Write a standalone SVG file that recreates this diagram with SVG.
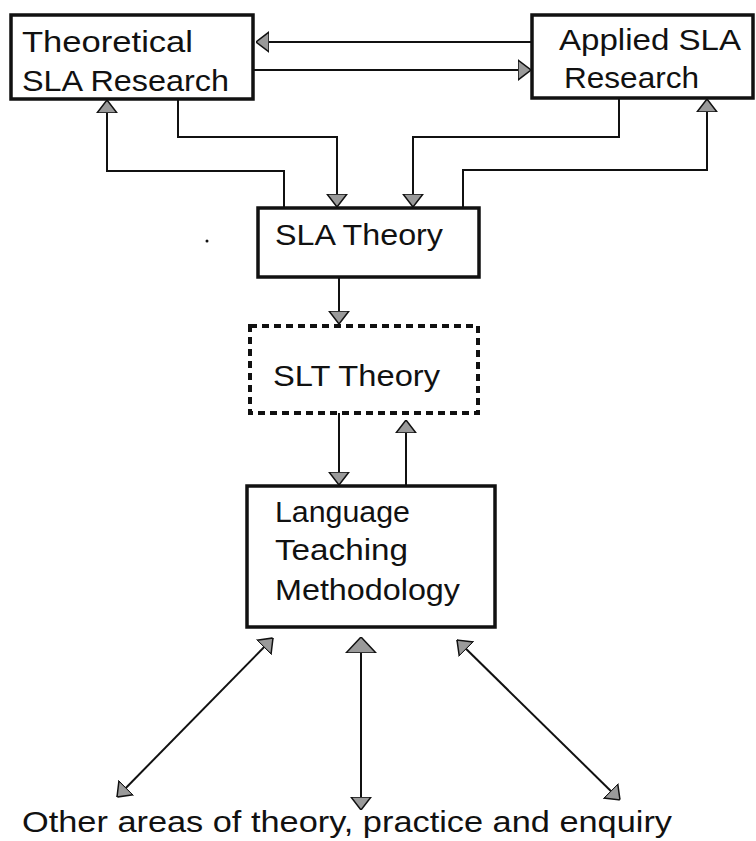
<svg xmlns="http://www.w3.org/2000/svg" width="756" height="841" viewBox="0 0 756 841">
  <defs>
    <style>
      .box{fill:#fff;stroke:#111;stroke-width:3.5}
      .dash{fill:none;stroke:#111;stroke-width:4;stroke-dasharray:7 5}
      .lbl{font-family:"Liberation Sans",Arial,sans-serif;font-size:30px;fill:#111}
      .wire{fill:none;stroke:#111;stroke-width:2}
      .tip{marker-end:url(#head)}
      .both{marker-start:url(#head);marker-end:url(#head)}
      .bigstart{marker-start:url(#head-lg);marker-end:url(#head)}
    </style>
    <marker id="head" viewBox="0 0 13 22" refX="13" refY="11" markerWidth="13" markerHeight="22" markerUnits="userSpaceOnUse" orient="auto-start-reverse">
      <path d="M0,1 L13,11 L0,21 Z" fill="#9a9a9a" stroke="#111" stroke-width="1.5"/>
    </marker>
    <marker id="head-lg" viewBox="0 0 16 32" refX="16" refY="16" markerWidth="16" markerHeight="32" markerUnits="userSpaceOnUse" orient="auto-start-reverse">
      <path d="M0,1 L16,16 L0,31 Z" fill="#9a9a9a" stroke="#111" stroke-width="1.5"/>
    </marker>
  </defs>

  <!-- connectors -->
  <g id="connectors">
    <path class="wire tip" d="M532,42 H256"/>
    <path class="wire tip" d="M253,70 H531"/>
    <path class="wire tip" d="M178,99 V137 H337 V207"/>
    <path class="wire tip" d="M284,208 V171 H107 V100"/>
    <path class="wire tip" d="M619,98 V137 H413 V207"/>
    <path class="wire tip" d="M463,208 V170 H707 V99"/>
    <path class="wire tip" d="M339,277 V324"/>
    <path class="wire tip" d="M339,413 V485"/>
    <path class="wire tip" d="M406,486 V420"/>
    <path class="wire both" d="M273,638 L117,797"/>
    <path class="wire bigstart" d="M361,637 V810"/>
    <path class="wire both" d="M457,640 L620,800"/>
  </g>

  <g id="theoretical">
    <rect class="box" x="11" y="15" width="242" height="84"/>
    <text class="lbl" x="22" y="52" textLength="171" lengthAdjust="spacingAndGlyphs">Theoretical</text>
    <text class="lbl" x="22" y="91" textLength="207" lengthAdjust="spacingAndGlyphs">SLA Research</text>
  </g>

  <g id="applied">
    <rect class="box" x="532" y="15" width="221" height="83"/>
    <text class="lbl" x="559" y="50" textLength="182" lengthAdjust="spacingAndGlyphs">Applied SLA</text>
    <text class="lbl" x="564" y="88" textLength="135" lengthAdjust="spacingAndGlyphs">Research</text>
  </g>

  <g id="sla-theory">
    <rect class="box" x="258" y="208" width="221" height="69"/>
    <text class="lbl" x="275" y="245" textLength="168" lengthAdjust="spacingAndGlyphs">SLA Theory</text>
  </g>

  <g id="slt-theory">
    <rect class="dash" x="250" y="326" width="228" height="87"/>
    <text class="lbl" x="273" y="386" textLength="167" lengthAdjust="spacingAndGlyphs">SLT Theory</text>
  </g>

  <g id="methodology">
    <rect class="box" x="247" y="486" width="248" height="141"/>
    <text class="lbl" x="275" y="522" textLength="135" lengthAdjust="spacingAndGlyphs">Language</text>
    <text class="lbl" x="275" y="560" textLength="133" lengthAdjust="spacingAndGlyphs">Teaching</text>
    <text class="lbl" x="275" y="600" textLength="185" lengthAdjust="spacingAndGlyphs">Methodology</text>
  </g>

  <g id="other-areas">
    <text class="lbl" x="22" y="832" textLength="650" lengthAdjust="spacingAndGlyphs">Other areas of theory, practice and enquiry</text>
  </g>

  <circle cx="207" cy="241" r="1.5" fill="#111"/>
</svg>
